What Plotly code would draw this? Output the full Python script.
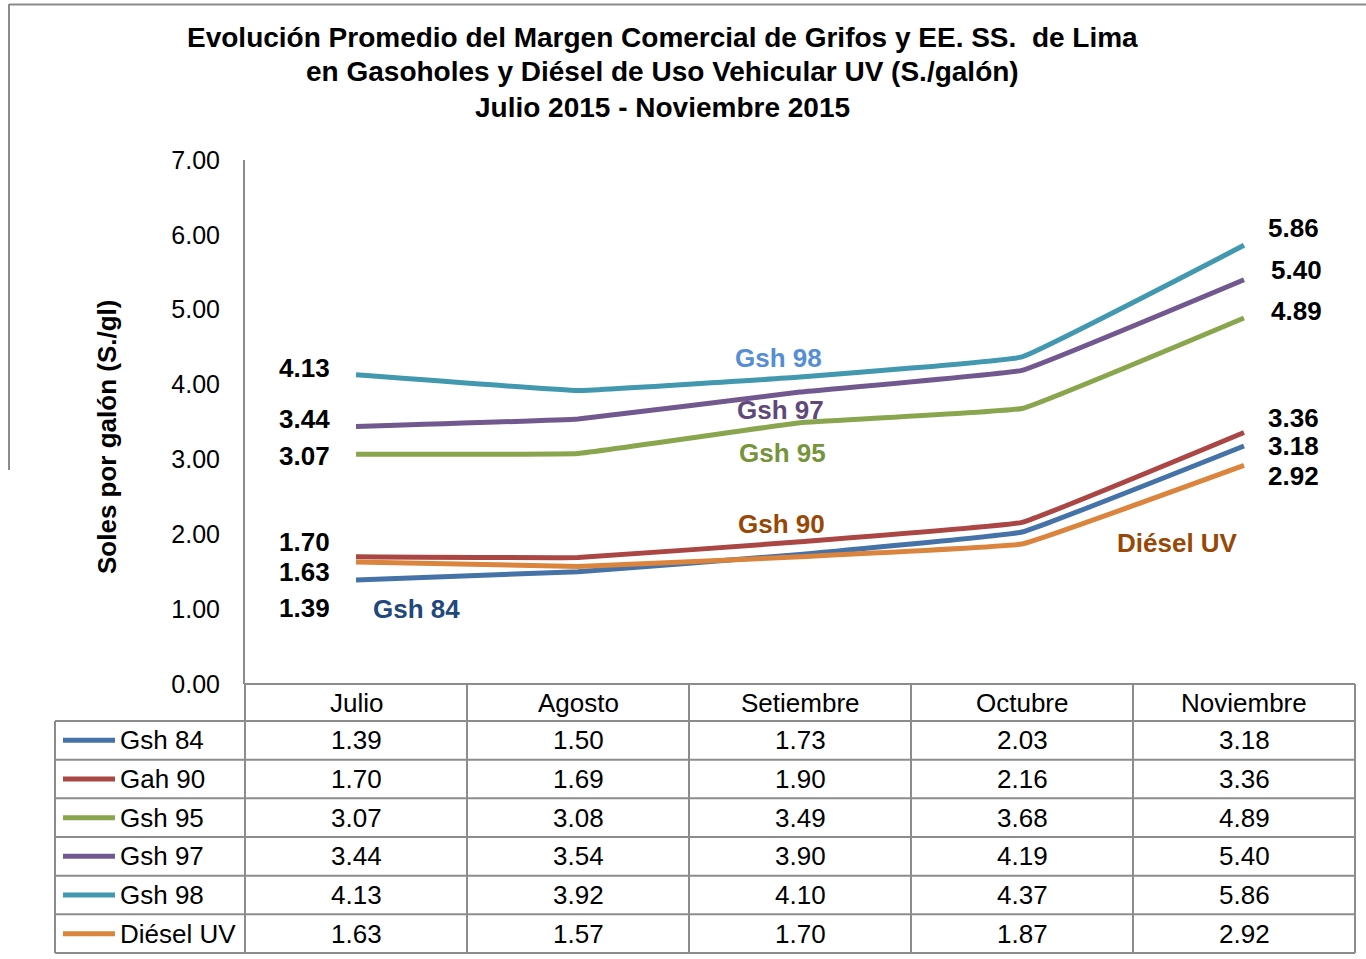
import plotly.graph_objects as go

categories = ["Julio", "Agosto", "Setiembre", "Octubre", "Noviembre"]
series_names = ["Gsh 84", "Gah 90", "Gsh 95", "Gsh 97", "Gsh 98", "Diésel UV"]
gsh84 = [1.39, 1.50, 1.73, 2.03, 3.18]
gah90 = [1.70, 1.69, 1.90, 2.16, 3.36]
gsh95 = [3.07, 3.08, 3.49, 3.68, 4.89]
gsh97 = [3.44, 3.54, 3.90, 4.19, 5.40]
gsh98 = [4.13, 3.92, 4.10, 4.37, 5.86]
diesel = [1.63, 1.57, 1.70, 1.87, 2.92]
y_ticks = [0, 1, 2, 3, 4, 5, 6, 7]

series_values = [gsh84, gah90, gsh95, gsh97, gsh98, diesel]
line_colors = ["#4572A7", "#AA4643", "#89A54E", "#71588F", "#4198AF", "#DB843D"]

FONT = "Liberation Sans, Arial, sans-serif"
W, H = 1366, 959
L, R, T, B = 245, 11, 160, 275
PW, PH = W - L - R, H - T - B


def px(x):
    return (x - L) / PW


def py(y):
    return (H - B - y) / PH


fig = go.Figure()
for name, vals, col in zip(series_names, series_values, line_colors):
    fig.add_trace(go.Scatter(
        x=list(range(len(categories))), y=vals, name=name, mode="lines",
        line=dict(color=col, width=5, shape="spline", smoothing=0.2),
        showlegend=False, hoverinfo="skip"))

annotations = []
shapes = []

# Title
title_lines = [
    "Evolución Promedio del Margen Comercial de Grifos y EE. SS.  de Lima",
    "en Gasoholes y Diésel de Uso Vehicular UV (S./galón)",
    "Julio 2015 - Noviembre 2015",
]
for t, yy in zip(title_lines, [38, 72, 107]):
    annotations.append(dict(text="<b>%s</b>" % t, xref="paper", yref="paper",
                            x=px(662), y=py(yy), showarrow=False,
                            xanchor="center", yanchor="middle",
                            font=dict(family=FONT, size=28, color="black")))

# Axis title
annotations.append(dict(text="<b>Soles por galón (S./gl)</b>", xref="paper", yref="paper",
                        x=px(107), y=py(437), showarrow=False, textangle=-90,
                        xanchor="center", yanchor="middle",
                        font=dict(family=FONT, size=26, color="black")))

# Data labels at first and last points
left_shift = {"Gsh 84": (-52, -28), "Gah 90": (-52, 15), "Gsh 95": (-52, -2),
              "Gsh 97": (-52, 7), "Gsh 98": (-52, 7), "Diésel UV": (-52, -10)}
right_shift = {"Gsh 84": (49, 0), "Gah 90": (49, 14), "Gsh 95": (52, 7),
               "Gsh 97": (52, 10), "Gsh 98": (49, 17), "Diésel UV": (49, -11)}
for name, vals in zip(series_names, series_values):
    dx, dy = left_shift[name]
    annotations.append(dict(text="<b>%.2f</b>" % vals[0], x=0, y=vals[0], xref="x", yref="y",
                            xshift=dx, yshift=dy, showarrow=False,
                            font=dict(family=FONT, size=26, color="black")))
    dx, dy = right_shift[name]
    n = len(vals) - 1
    annotations.append(dict(text="<b>%.2f</b>" % vals[n], x=n, y=vals[n], xref="x", yref="y",
                            xshift=dx, yshift=dy, showarrow=False,
                            font=dict(family=FONT, size=26, color="black")))

# Series name labels inside chart
name_labels = [("Gsh 98", 778, 358, "#558ED5"), ("Gsh 97", 780, 410, "#5F497A"),
               ("Gsh 95", 782, 453, "#77933C"), ("Gsh 90", 781, 524, "#984806"),
               ("Gsh 84", 416, 609, "#1F497D"), ("Diésel UV", 1177, 543, "#984806")]
for t, xx, yy, c in name_labels:
    annotations.append(dict(text="<b>%s</b>" % t, xref="paper", yref="paper",
                            x=px(xx), y=py(yy), showarrow=False,
                            xanchor="center", yanchor="middle",
                            font=dict(family=FONT, size=26, color=c)))

# Data table
grid = "#8C8C8C"
ncol = len(categories)
header_top, header_bot = 684, 721
row_h = (953 - header_bot) / len(series_names)
row_edges = [header_bot + i * row_h for i in range(len(series_names) + 1)]
legend_left = 55

# horizontal lines
shapes.append(dict(type="line", xref="paper", yref="paper", x0=0, x1=1,
                   y0=py(header_top), y1=py(header_top), line=dict(color=grid, width=2)))
for ye in row_edges:
    shapes.append(dict(type="line", xref="paper", yref="paper", x0=px(legend_left), x1=1,
                       y0=py(ye), y1=py(ye), line=dict(color=grid, width=2)))
# vertical lines
for i in range(ncol + 1):
    shapes.append(dict(type="line", xref="paper", yref="paper", x0=i / ncol, x1=i / ncol,
                       y0=py(header_top), y1=py(row_edges[-1]), line=dict(color=grid, width=2)))
shapes.append(dict(type="line", xref="paper", yref="paper", x0=px(legend_left), x1=px(legend_left),
                   y0=py(row_edges[0]), y1=py(row_edges[-1]), line=dict(color=grid, width=2)))

# header
for i, c in enumerate(categories):
    annotations.append(dict(text=c, xref="paper", yref="paper", x=(i + 0.5) / ncol,
                            y=py((header_top + header_bot) / 2), showarrow=False,
                            xanchor="center", yanchor="middle",
                            font=dict(family=FONT, size=26, color="black")))
# rows
for r, (name, vals, col) in enumerate(zip(series_names, series_values, line_colors)):
    yc = (row_edges[r] + row_edges[r + 1]) / 2
    shapes.append(dict(type="line", xref="paper", yref="paper", x0=px(63), x1=px(115),
                       y0=py(yc), y1=py(yc), line=dict(color=col, width=5)))
    annotations.append(dict(text=name, xref="paper", yref="paper", x=px(118), y=py(yc),
                            showarrow=False, xanchor="left", yanchor="middle",
                            font=dict(family=FONT, size=26, color="black")))
    for i, v in enumerate(vals):
        annotations.append(dict(text="%.2f" % v, xref="paper", yref="paper", x=(i + 0.5) / ncol,
                                y=py(yc), showarrow=False, xanchor="center", yanchor="middle",
                                font=dict(family=FONT, size=26, color="black")))

# outer frame fragments
shapes.append(dict(type="line", xref="paper", yref="paper", x0=px(9), x1=px(1366),
                   y0=py(4.5), y1=py(4.5), line=dict(color="#8C8C8C", width=2)))
shapes.append(dict(type="line", xref="paper", yref="paper", x0=px(9), x1=px(9),
                   y0=py(4), y1=py(470), line=dict(color="#8C8C8C", width=2)))

fig.update_layout(
    width=W, height=H, autosize=False,
    margin=dict(l=L, r=R, t=T, b=B, pad=0),
    paper_bgcolor="white", plot_bgcolor="white",
    xaxis=dict(range=[-0.5, ncol - 0.5], showticklabels=False, showgrid=False,
               zeroline=False, showline=False, ticks=""),
    yaxis=dict(range=[0, 7], tickvals=y_ticks, tickformat=".2f", showgrid=False,
               zeroline=False, showline=True, linecolor=grid, linewidth=2, ticks="",
               ticklabelstandoff=18,
               tickfont=dict(family=FONT, size=25, color="black")),
    annotations=annotations, shapes=shapes,
)

fig.write_html("out.html", config={"displayModeBar": False},
               post_script="document.body.style.margin='0';")
